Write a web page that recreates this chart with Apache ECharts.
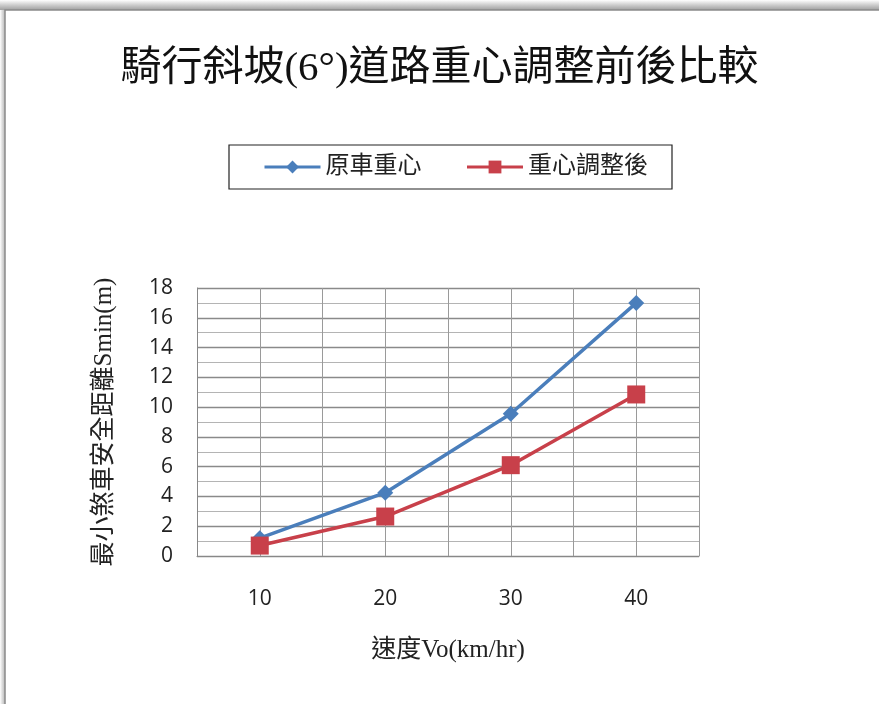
<!DOCTYPE html>
<html>
<head>
<meta charset="utf-8">
<script src="https://cdn.jsdelivr.net/npm/echarts@6/dist/echarts.min.js"></script>
<style>
  html, body { margin: 0; padding: 0; background: #fff; }
  #chart { width: 879px; height: 704px; }
</style>
</head>
<body>
<div id="chart"></div>
<script>
// Riding speed (km/hr) and minimum braking distance (m)
const speeds = [10, 20, 30, 40];
const originalCg = [1.2, 4.25, 9.55, 17.0];
const adjustedCg = [0.7, 2.65, 6.1, 10.85];
const yTicks = [0, 2, 4, 6, 8, 10, 12, 14, 16, 18];

const titleText = '騎行斜坡(6°)道路重心調整前後比較';
const seriesNames = ['原車重心', '重心調整後'];
const xName = '速度Vo(km/hr)';
const yName = '最小煞車安全距離Smin(m)';

const serif = '"Liberation Serif", "Noto Sans CJK TC", serif';
const sans = '"Open Sans", "Noto Sans", sans-serif';

const chart = echarts.init(document.getElementById('chart'));

chart.setOption({
  backgroundColor: '#ffffff',
  animation: false,
  graphic: [
    // soft shadow along the top and left edges of the chart frame
    {
      type: 'rect',
      shape: { x: 0, y: 0, width: 879, height: 10 },
      style: {
        fill: new echarts.graphic.LinearGradient(0, 0, 0, 1, [
          { offset: 0, color: 'rgba(255,255,255,1)' },
          { offset: 1, color: 'rgba(150,150,150,0.9)' }
        ])
      },
      silent: true
    },
    {
      type: 'rect',
      shape: { x: 0, y: 10, width: 5, height: 694 },
      style: {
        fill: new echarts.graphic.LinearGradient(0, 0, 1, 0, [
          { offset: 0, color: 'rgba(255,255,255,1)' },
          { offset: 1, color: 'rgba(170,170,170,0.8)' }
        ])
      },
      silent: true
    },
    {
      type: 'rect',
      shape: { x: 5, y: 10, width: 890, height: 710 },
      style: { fill: 'none', stroke: '#8a8a8a', lineWidth: 1.5 },
      silent: true
    }
  ],
  title: {
    text: titleText,
    left: 'center',
    top: 44,
    textStyle: {
      fontFamily: serif,
      fontSize: 41,
      fontWeight: 'normal',
      color: '#111'
    }
  },
  legend: {
    data: seriesNames,
    top: 145,
    left: 229,
    itemWidth: 56,
    itemHeight: 16,
    itemGap: 44,
    padding: [10, 24, 10, 34],
    lineStyle: { width: 3 },
    borderColor: '#222',
    borderWidth: 1.2,
    borderRadius: 0,
    textStyle: {
      fontFamily: serif,
      fontSize: 24,
      color: '#222'
    }
  },
  grid: {
    left: 197,
    right: 180,
    top: 288,
    bottom: 148,
    containLabel: false
  },
  xAxis: {
    type: 'value',
    min: 5,
    max: 45,
    interval: 5,
    name: xName,
    nameLocation: 'middle',
    nameGap: 82,
    nameTextStyle: {
      fontFamily: serif,
      fontSize: 25,
      color: '#222'
    },
    axisLine: { show: true, lineStyle: { color: '#888', width: 1 } },
    axisTick: { show: false },
    axisLabel: {
      margin: 33,
      fontFamily: sans,
      fontSize: 21,
      color: '#222',
      formatter: v => (speeds.indexOf(v) >= 0 ? String(v) : '')
    },
    splitLine: { show: true, lineStyle: { color: '#9a9a9a', width: 1 } }
  },
  yAxis: {
    type: 'value',
    min: yTicks[0],
    max: yTicks[yTicks.length - 1],
    interval: yTicks[1] - yTicks[0],
    name: yName,
    nameLocation: 'middle',
    nameGap: 80,
    nameRotate: 90,
    nameTextStyle: {
      fontFamily: serif,
      fontSize: 25,
      color: '#222'
    },
    axisLine: { show: true, lineStyle: { color: '#888', width: 1 } },
    axisTick: { show: false },
    axisLabel: {
      margin: 24,
      fontFamily: sans,
      fontSize: 21,
      color: '#222'
    },
    splitLine: { show: true, lineStyle: { color: '#8a8a8a', width: 1.3 } },
    minorTick: { show: false, splitNumber: 2 },
    minorSplitLine: { show: true, lineStyle: { color: '#b4b4b4', width: 1 } }
  },
  series: [
    {
      name: seriesNames[0],
      type: 'line',
      data: speeds.map((s, i) => [s, originalCg[i]]),
      color: '#4a7ebb',
      lineStyle: { width: 3.5 },
      symbol: 'diamond',
      symbolSize: 16,
      z: 3
    },
    {
      name: seriesNames[1],
      type: 'line',
      data: speeds.map((s, i) => [s, adjustedCg[i]]),
      color: '#c8404a',
      lineStyle: { width: 3.5 },
      symbol: 'rect',
      symbolSize: 18,
      z: 4
    }
  ]
});
</script>
</body>
</html>
